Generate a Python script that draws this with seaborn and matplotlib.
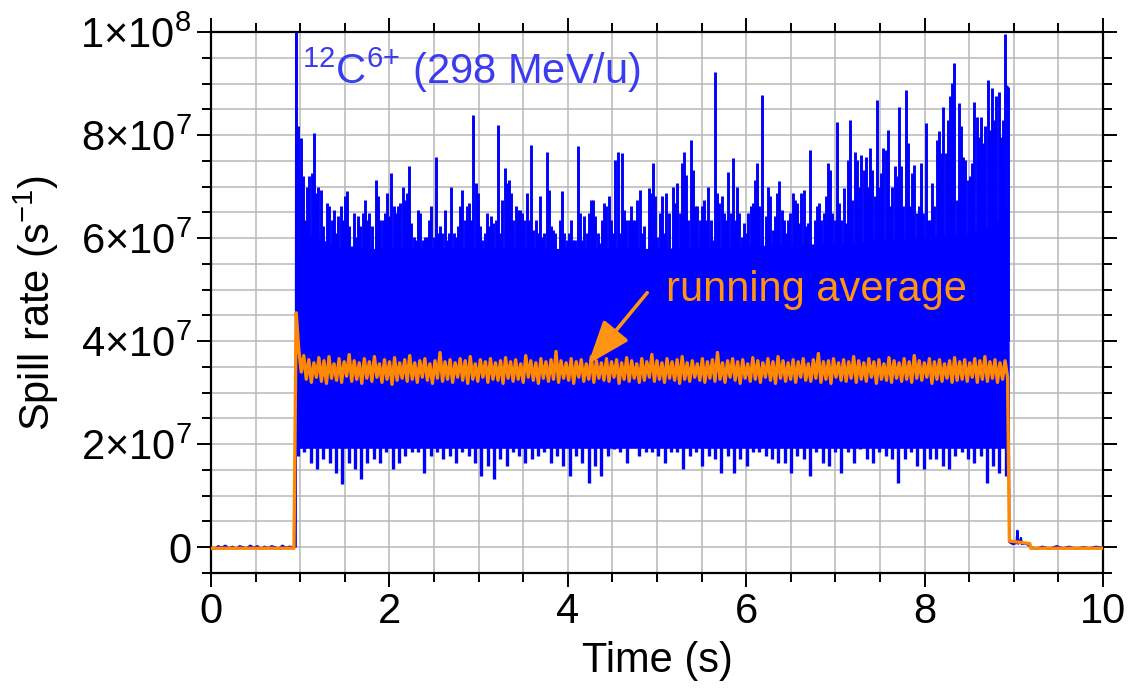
import numpy as np
import pandas as pd
import matplotlib
matplotlib.use("Agg")
import matplotlib.pyplot as plt
import seaborn as sns
from matplotlib.ticker import MultipleLocator, FuncFormatter

# ---------------------------------------------------------------- data
RATE_UNIT = 1e7            # values below are given in units of 1e7 s^-1

spill_start = 0.955        # s
spill_end = 8.93           # s

# Upper spikes of the measured spill rate, in time order across the spill
spike_tops = [
    10.0, 8.17, 7.94, 7.20, 6.36, 7.00, 7.20, 7.26, 8.04, 6.87,
    7.00, 6.94, 6.23, 5.71, 6.68, 6.62, 6.36, 6.55, 6.10, 6.42,
    6.62, 6.36, 6.81, 6.91, 6.23, 5.84, 6.49, 6.03, 6.42, 6.23,
    6.49, 6.74, 6.36, 6.49, 6.23, 5.58, 7.13, 6.81, 6.36, 6.36,
    6.49, 6.87, 6.42, 7.26, 6.62, 6.49, 6.62, 6.68, 7.00, 6.74,
    6.87, 7.39, 6.29, 6.03, 5.97, 6.55, 6.49, 5.97, 6.03, 6.03,
    6.36, 6.62, 6.03, 7.58, 6.10, 6.23, 6.10, 6.55, 5.97, 6.10,
    7.00, 6.10, 6.03, 6.23, 6.62, 6.94, 6.36, 6.62, 6.68, 6.36,
    8.39, 7.07, 6.87, 6.23, 5.97, 6.10, 6.49, 6.23, 6.42, 6.29,
    6.36, 8.20, 6.10, 6.74, 7.36, 7.07, 7.13, 6.87, 6.36, 6.62,
    6.55, 6.55, 6.49,
    6.36, 6.87, 6.36, 7.81, 6.16, 6.36, 6.10, 6.81, 6.03, 6.10,
    7.68, 6.94, 6.23, 6.16, 6.10, 5.71, 6.36, 6.91, 6.10, 5.97,
    6.10, 6.36, 5.97, 5.97, 7.78, 6.49, 5.97, 6.42, 6.10, 6.49,
    6.74, 6.74, 6.42, 6.10, 5.90, 6.36, 6.68, 6.62, 6.81, 6.36,
    6.10, 7.52, 7.68, 6.10, 7.65, 6.55, 6.36, 6.36, 6.62, 6.36,
    6.36, 6.74, 6.94, 6.10,
    6.23, 5.45, 6.97, 6.87, 7.46, 6.81, 6.03, 6.49, 6.81, 6.10,
    6.87, 6.49, 5.78, 7.00, 6.68, 7.07, 6.49, 7.46, 7.68, 7.23,
    6.36, 7.91, 7.33, 6.62, 6.62, 6.36, 6.62, 6.74, 6.36, 7.00,
    6.36, 5.97, 9.23, 6.87, 6.68, 6.81, 6.49, 6.36, 7.29, 6.49,
    7.55, 6.36, 7.00, 6.49, 6.03, 6.29, 6.10, 6.49, 6.62, 6.68,
    7.13, 7.46, 6.62,
    8.78, 5.78, 6.42, 7.00, 6.81, 6.16, 6.42, 6.87, 7.10, 6.55,
    6.36, 6.10, 6.36, 6.49, 6.87, 6.74, 6.68, 6.29, 6.87, 6.94,
    6.23, 6.29, 7.71, 5.58, 6.36, 6.62, 6.68, 6.36, 6.49, 6.81,
    7.46, 7.33, 6.49, 6.36, 8.26, 6.68, 6.36, 6.97, 6.29, 7.52,
    8.30, 6.74, 7.68, 7.52, 7.00, 7.62, 7.33, 7.58, 7.00, 7.75,
    7.33, 6.81, 8.68, 7.00, 7.26, 7.75,
    7.71, 8.10, 6.62, 7.00, 7.39, 7.20, 8.55, 7.39, 6.62, 8.88,
    7.84, 6.62, 7.26, 7.42, 6.49, 6.62, 7.46, 6.49, 8.23, 6.36,
    6.36, 7.07, 6.62, 7.91, 8.07, 7.65, 8.55, 7.65, 8.30, 8.75,
    9.01, 9.39, 6.74, 8.62, 8.17, 7.58, 7.52, 7.13, 7.20, 7.46,
    8.65, 8.36, 7.97, 8.36, 7.84, 8.17, 9.07, 8.10, 8.91, 8.30,
    8.75, 8.84, 7.97, 8.30, 9.97, 8.94,
]

# Lower dips of the measured spill rate, in time order across the spill
spike_dips = [
    1.77, 1.84, 1.64, 1.51, 1.71, 1.64, 1.45, 1.22, 1.64, 1.51,
    1.32, 1.64, 1.71, 1.64, 1.84, 1.51, 1.64, 1.77, 1.84, 1.84,
    1.45, 1.77, 1.84, 1.71, 1.77, 1.64, 1.84, 1.77, 1.64, 1.38,
    1.58, 1.32, 1.71, 1.58, 1.84, 1.77, 1.64, 1.71, 1.77,
    1.84, 1.64, 1.77, 1.58, 1.38, 1.77, 1.64, 1.25, 1.58, 1.38,
    1.77, 1.90, 1.84, 1.64, 1.96, 1.77, 1.84, 1.84, 1.77, 1.64,
    1.84, 1.84, 1.51, 1.77, 1.84, 1.58, 1.77, 1.71, 1.45, 1.77,
    1.45, 1.71, 1.58, 1.84, 1.84, 1.77, 1.71, 1.64,
    1.64, 1.45, 1.77, 1.71, 1.38, 1.84, 1.64, 1.58, 1.84, 1.45,
    1.84, 1.64, 1.90, 1.71, 1.64, 1.84, 1.77, 1.71, 1.25,
    1.71, 1.84, 1.58, 1.51, 1.71, 1.71, 1.58, 1.51, 1.77, 1.84,
    1.71, 1.64, 1.77, 1.25, 1.58, 1.45, 1.38,
]

# Dense body of the signal (band limits at a few times)
core_t = [0.955, 1.05, 1.5, 3.0, 5.0, 7.0, 7.9, 8.5, 8.8, 8.93]
core_hi = [7.9, 6.1, 5.8, 5.8, 5.8, 5.9, 6.0, 6.1, 6.3, 6.6]
core_lo = [1.92, 1.92, 1.92, 1.92, 1.92, 1.92, 1.92, 1.92, 1.92, 1.92]

# Running average across the spill
avg_rate = [
    4.55, 3.85, 3.40,
    3.72, 3.26, 3.64, 3.20, 3.58, 3.30, 3.68, 3.22, 3.62, 3.18,
    3.70, 3.28, 3.56, 3.24, 3.66, 3.20, 3.60, 3.32, 3.74, 3.22,
    3.62, 3.26, 3.58, 3.18, 3.66, 3.28, 3.60, 3.22, 3.70, 3.30,
    3.56, 3.20, 3.64, 3.26, 3.60, 3.16, 3.68, 3.24, 3.58, 3.28,
    3.64, 3.22, 3.72, 3.26, 3.58, 3.20, 3.62, 3.30, 3.66, 3.24,
    3.56, 3.18, 3.62, 3.28, 3.78, 3.22, 3.60, 3.26, 3.64, 3.20,
    3.58, 3.30, 3.66, 3.24, 3.62, 3.18, 3.70, 3.26, 3.56, 3.22,
    3.64, 3.30, 3.60, 3.20, 3.66, 3.26, 3.58, 3.24, 3.62, 3.18,
    3.68, 3.28, 3.60, 3.22, 3.64, 3.26, 3.56, 3.20, 3.72, 3.30,
    3.62, 3.24, 3.58, 3.18, 3.66, 3.28, 3.60, 3.22, 3.64, 3.26,
    3.80, 3.20, 3.62, 3.28, 3.58, 3.24, 3.66, 3.18, 3.60, 3.30,
    3.64, 3.22, 3.56, 3.26, 3.70, 3.20, 3.62, 3.28, 3.58, 3.24,
    3.66, 3.22, 3.60, 3.30, 3.64, 3.18, 3.58, 3.26, 3.68, 3.22,
    3.62, 3.28, 3.56, 3.20, 3.66, 3.24, 3.60, 3.30, 3.74, 3.22,
    3.62, 3.26, 3.58, 3.20, 3.66, 3.28, 3.60, 3.24, 3.64, 3.18,
    3.70, 3.26, 3.58, 3.22, 3.62, 3.30, 3.56, 3.24, 3.66, 3.20,
    3.60, 3.28, 3.64, 3.22, 3.78, 3.26, 3.58, 3.20, 3.62, 3.30,
    3.66, 3.24, 3.60, 3.18, 3.64, 3.28, 3.56, 3.22, 3.68, 3.26,
    3.62, 3.20, 3.58, 3.30, 3.66, 3.24, 3.60, 3.18, 3.70, 3.28,
    3.62, 3.22, 3.58, 3.26, 3.64, 3.20, 3.60, 3.30, 3.66, 3.24,
    3.56, 3.22, 3.64, 3.28, 3.76, 3.20, 3.60, 3.26, 3.62, 3.18,
    3.66, 3.30, 3.58, 3.24, 3.64, 3.22, 3.60, 3.28, 3.70, 3.20,
    3.62, 3.26, 3.58, 3.22, 3.66, 3.30, 3.60, 3.18, 3.64, 3.26,
    3.56, 3.24, 3.68, 3.20, 3.62, 3.28, 3.58, 3.22, 3.66, 3.26,
    3.60, 3.20, 3.72, 3.28, 3.62, 3.24, 3.58, 3.30, 3.66, 3.18,
    3.60, 3.26, 3.64, 3.22, 3.56, 3.28, 3.62, 3.20, 3.68, 3.24,
    3.60, 3.26, 3.64, 3.22, 3.58, 3.30, 3.66, 3.20, 3.62, 3.26,
    3.70, 3.22, 3.60, 3.28, 3.64, 3.20, 3.58, 3.26, 3.62, 3.30,
]

# Before the spill
pre_t = [0.00, 0.04, 0.08, 0.12, 0.16, 0.20, 0.24, 0.28, 0.32, 0.36,
         0.40, 0.44, 0.48, 0.52, 0.56, 0.60, 0.64, 0.68, 0.72, 0.76,
         0.80, 0.84, 0.88, 0.92, 0.95]
pre_rate = [0.00, -0.03, 0.02, -0.01, 0.03, -0.02, 0.01, -0.03, 0.02, 0.00,
            -0.02, 0.03, -0.01, 0.02, -0.03, 0.01, -0.02, 0.02, 0.00, -0.03,
            0.03, -0.01, 0.01, 0.00, 0.01]
avg_pre_t = [0.0, 0.93]
avg_pre = [-0.02, -0.02]

# After the spill
post_t = [8.95, 8.99, 9.03, 9.04, 9.05, 9.07, 9.08, 9.09, 9.12, 9.16,
          9.19, 9.25, 9.32, 9.40, 9.48, 9.55, 9.62, 9.70, 9.78, 9.85,
          9.92, 10.0]
post_rate = [0.10, 0.06, 0.08, 0.32, 0.07, 0.09, 0.18, 0.06, 0.07, 0.05,
             0.00, -0.03, 0.01, -0.03, 0.02, -0.02, 0.01, -0.03, 0.00, -0.02,
             0.01, -0.01]
avg_post_t = [8.95, 9.18, 9.19, 10.0]
avg_post = [0.12, 0.07, -0.02, -0.02]

x_ticks_major = [0, 2, 4, 6, 8, 10]

BLUE = "#0000ff"
ORANGE = "#ff8800"

# ---------------------------------------------------------------- style
sns.set_theme(style="ticks")
plt.rcParams["font.family"] = ["Liberation Sans", "DejaVu Sans"]
plt.rcParams["mathtext.fontset"] = "custom"
plt.rcParams["mathtext.rm"] = "Liberation Sans"
plt.rcParams["mathtext.it"] = "Liberation Sans:italic"
plt.rcParams["mathtext.default"] = "regular"
plt.rcParams["path.simplify"] = False
for key in ("text.color", "axes.labelcolor", "xtick.color", "ytick.color",
            "axes.edgecolor"):
    plt.rcParams[key] = "black"

fig = plt.figure(figsize=(11.32, 6.90), dpi=100)
ax = fig.add_axes([0.1864, 0.1696, 0.788, 0.784])

u = RATE_UNIT
tops = np.array(spike_tops) * u
dips = np.array(spike_dips) * u
t_tops = np.linspace(spill_start, spill_end, len(tops))
t_dips = np.linspace(spill_start + 0.02, spill_end - 0.02, len(dips))

# dense body of the blue signal
ax.fill_between(core_t, np.array(core_lo) * u, np.array(core_hi) * u,
                color=BLUE, lw=0, zorder=2)
# individual spikes above and below the body
ax.vlines(t_tops, 4.0 * u, tops, color=BLUE, lw=2.1, zorder=2)
ax.vlines(t_dips, 3.0 * u, dips, color=BLUE, lw=2.4, zorder=2)

# baseline before / after the spill, joined to the spill edges
blue_pre = pd.DataFrame({"t": pre_t + [spill_start],
                         "rate": (np.array(pre_rate + [spike_tops[0]]) * u)})
blue_post = pd.DataFrame({"t": [spill_end] + post_t,
                          "rate": (np.array([spike_tops[-1]] + post_rate) * u)})
for d in (blue_pre, blue_post):
    sns.lineplot(data=d, x="t", y="rate", ax=ax, color=BLUE, lw=1.6,
                 estimator=None, sort=False, legend=False, zorder=2)

# running average
avg_t = np.concatenate([avg_pre_t,
                        np.linspace(spill_start, spill_end, len(avg_rate)),
                        avg_post_t])
avg_v = np.concatenate([avg_pre, avg_rate, avg_post]) * u
sns.lineplot(x=avg_t, y=avg_v, ax=ax, color=ORANGE, lw=2.4,
             estimator=None, sort=False, legend=False, zorder=3)

# ---------------------------------------------------------------- axes
ax.set_xlim(0, 10)
ax.set_ylim(-0.5 * u, 10 * u)
ax.set_xticks(x_ticks_major)
ax.xaxis.set_minor_locator(MultipleLocator(0.5))
ax.yaxis.set_major_locator(MultipleLocator(2 * u))
ax.yaxis.set_minor_locator(MultipleLocator(0.5 * u))


def sci_label(v, pos):
    if abs(v) < 1:
        return "0"
    exp = int(np.floor(np.log10(abs(v)) + 1e-9))
    mant = v / 10 ** exp
    return f"{mant:g}×10$^{{{exp}}}$"


ax.yaxis.set_major_formatter(FuncFormatter(sci_label))

ax.grid(which="both", color="#b8b8b8", lw=1.1, zorder=0)
ax.set_axisbelow(True)
ax.tick_params(which="both", direction="out", top=True, right=True,
               width=1.4, colors="black", labelsize=30, pad=4)
ax.tick_params(which="major", length=10)
ax.tick_params(which="minor", length=6.5)
for sp in ax.spines.values():
    sp.set_linewidth(1.6)
    sp.set_color("black")

ax.set_xlabel("Time (s)", fontsize=30, labelpad=6)
ax.set_ylabel("Spill rate (s$^{-1}$)", fontsize=30, labelpad=14)

# ---------------------------------------------------------------- labels
ax.text(1.02, 9.0 * u, "$^{12}$C$^{6{+}}$ (298 MeV/u)", color="#3b3bef",
        fontsize=30, ha="left", va="baseline", zorder=5)
ax.text(5.10, 4.77 * u, "running average", color="#ff9312",
        fontsize=30, ha="left", va="baseline", zorder=5)
ax.annotate("", xy=(4.226, 3.55 * u), xytext=(4.89, 4.94 * u),
            arrowprops=dict(arrowstyle="-|>,head_length=1.35,head_width=0.5",
                            mutation_scale=20, color="#ff9312", lw=2.6,
                            shrinkA=0, shrinkB=0),
            zorder=5)

fig.savefig("out.png", dpi=100)
